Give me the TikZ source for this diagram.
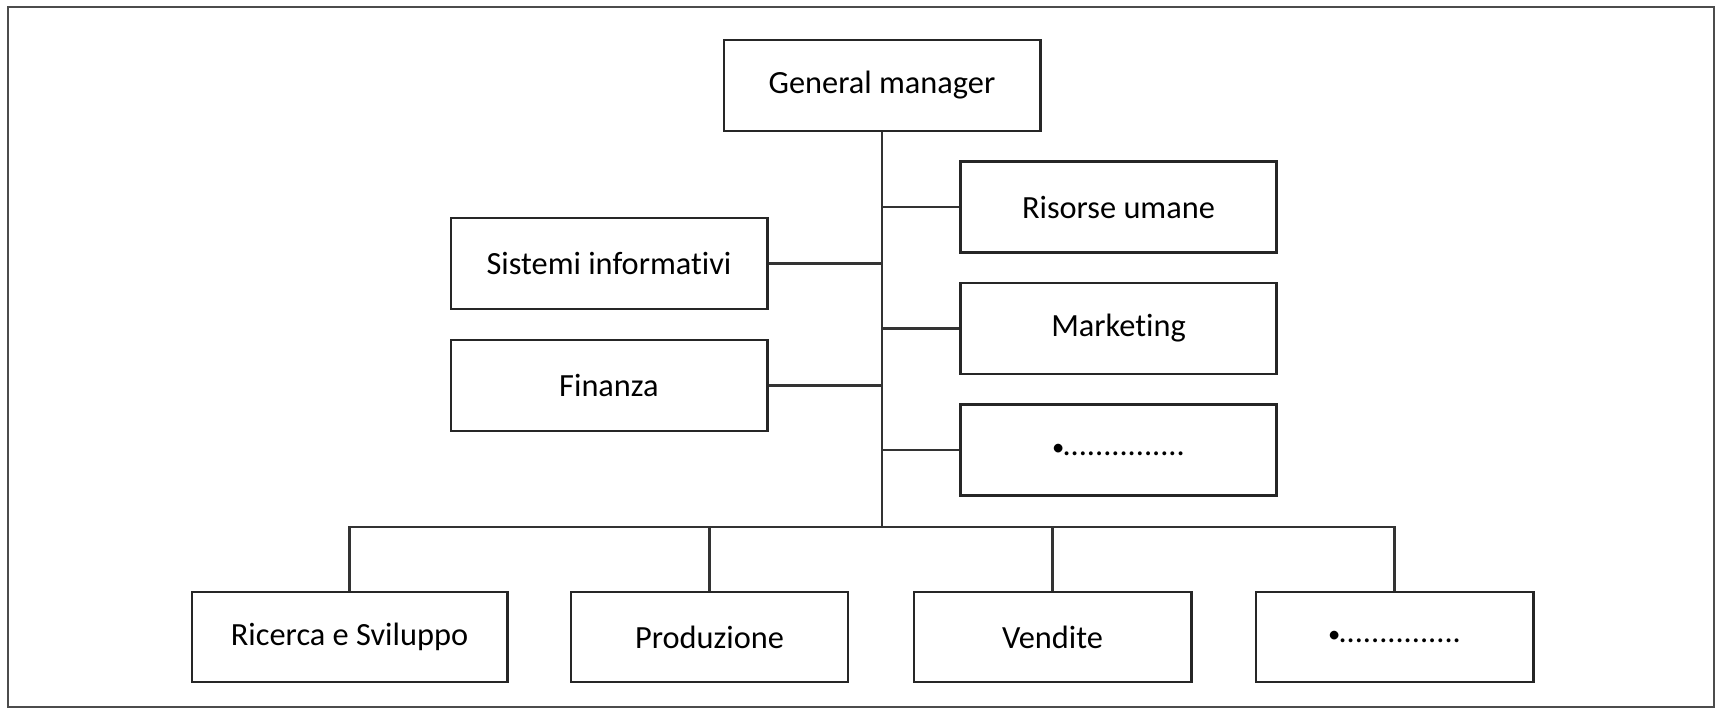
\documentclass[tikz,border=0pt]{standalone}
\usepackage{fontspec}
\setsansfont[Ligatures=NoCommon]{Carlito}
\begin{document}
\begin{tikzpicture}[x=0.01cm, y=-0.01cm, font=\sffamily\fontsize{9.2}{11}\selectfont]
	\tikzset{
		unit/.style={draw=black!85, line width=0.8pt, minimum width=3.16cm, minimum height=0.91cm, inner sep=0pt},
		smallunit/.style={unit, minimum width=2.77cm, minimum height=0.9cm},
		link/.style={draw=black!80, line width=0.65pt}
	}
	%frame
	\useasboundingbox (0,0) rectangle (1721,713);
	\draw[black!70, line width=0.7pt] (8,7) rectangle (1714,707);
	%top
	\node[unit] (gm) at (882,85.5) {General manager};
	%staff left
	\node[unit] (sis) at (609,263.5) {Sistemi informativi};
	\node[unit] (fin) at (609,385.5) {Finanza};
	%staff right
	\node[unit] (ris) at (1118.5,207) {Risorse umane};
	\node[unit] (mkt) at (1118.5,328.5) {Marketing};
	\node[unit] (alt) at (1118.5,450) {{\scriptsize\textbullet}\kern-0.5pt...............};
	%line units
	\node[unit, minimum height=0.9cm, minimum width=3.15cm] (ric) at (349.5,637) {Ricerca e Sviluppo};
	\node[smallunit] (pro) at (709.5,637) {Produzione};
	\node[smallunit] (ven) at (1052.5,637) {Vendite};
	\node[smallunit] (oth) at (1394.5,637) {{\scriptsize\textbullet}\kern-0.5pt...............};
	%trunk
	\coordinate (bus) at (882,527);
	\draw[link] (gm.south) -- (bus);
	\foreach \n in {sis,fin}
	\draw[link] (\n.east) -- (\n.east -| gm.south);
	\foreach \n in {ris,mkt,alt}
	\draw[link] (\n.west) -- (\n.west -| gm.south);
	%bus
	\draw[link] (ric.north) -- (ric.north |- bus) -- (oth.north |- bus) -- (oth.north);
	\foreach \n in {pro,ven}
	\draw[link] (\n.north) -- (\n.north |- bus);
\end{tikzpicture}
\end{document}
